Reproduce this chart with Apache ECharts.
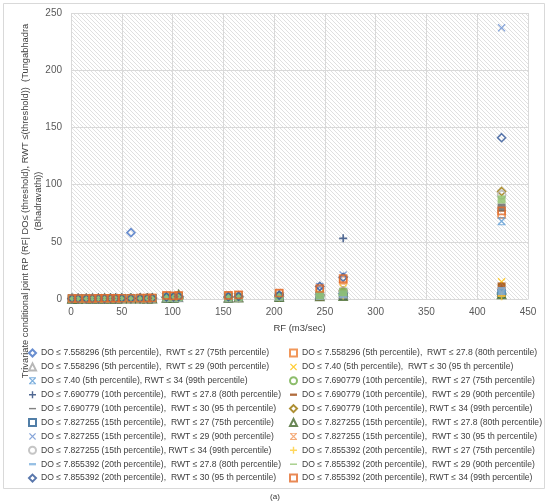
<!DOCTYPE html>
<html>
<head>
<meta charset="utf-8">
<script src="https://cdn.jsdelivr.net/npm/echarts@6/dist/echarts.min.js"></script>
<style>
  html, body { margin: 0; padding: 0; background: #fff; }
  #chart { width: 550px; height: 503px; }
</style>
</head>
<body>
<div id="chart"></div>
<script>
// RF (m3/sec) values shared by every series
const rf = [1, 7, 15, 21, 27, 33, 39, 44, 50, 59, 68, 75, 80, 94, 101, 106, 155, 165, 205, 245, 268, 424];

const seriesNames = [
  'DO ≤ 7.558296 (5th percentile),  RWT ≤ 27 (75th percentile)',
  'DO ≤ 7.558296 (5th percentile),  RWT ≤ 27.8 (80th percentile)',
  'DO ≤ 7.558296 (5th percentile),  RWT ≤ 29 (90th percentile)',
  'DO ≤ 7.40 (5th percentile),  RWT ≤ 30 (95 th percentile)',
  'DO ≤ 7.40 (5th percentile), RWT ≤ 34 (99th percentile)',
  'DO ≤ 7.690779 (10th percentile),  RWT ≤ 27 (75th percentile)',
  'DO ≤ 7.690779 (10th percentile),  RWT ≤ 27.8 (80th percentile)',
  'DO ≤ 7.690779 (10th percentile),  RWT ≤ 29 (90th percentile)',
  'DO ≤ 7.690779 (10th percentile),  RWT ≤ 30 (95 th percentile)',
  'DO ≤ 7.690779 (10th percentile), RWT ≤ 34 (99th percentile)',
  'DO ≤ 7.827255 (15th percentile),  RWT ≤ 27 (75th percentile)',
  'DO ≤ 7.827255 (15th percentile),  RWT ≤ 27.8 (80th percentile)',
  'DO ≤ 7.827255 (15th percentile),  RWT ≤ 29 (90th percentile)',
  'DO ≤ 7.827255 (15th percentile),  RWT ≤ 30 (95 th percentile)',
  'DO ≤ 7.827255 (15th percentile), RWT ≤ 34 (99th percentile)',
  'DO ≤ 7.855392 (20th percentile),  RWT ≤ 27 (75th percentile)',
  'DO ≤ 7.855392 (20th percentile),  RWT ≤ 27.8 (80th percentile)',
  'DO ≤ 7.855392 (20th percentile),  RWT ≤ 29 (90th percentile)',
  'DO ≤ 7.855392 (20th percentile),  RWT ≤ 30 (95 th percentile)',
  'DO ≤ 7.855392 (20th percentile), RWT ≤ 34 (99th percentile)'
];

// return periods, one array per series
const rp1  = [0.3, 0.3, 0.3, 0.4, 0.4, 0.4, 0.4, 0.5, 0.5, 58, 0.5, 0.6, 0.6, 1.5, 1.6, 1.8, 1.5, 1.7, 2.5, 3.5, 5, 5];
const rp2  = [0.4, 0.4, 0.4, 0.4, 0.5, 0.5, 0.5, 0.5, 0.6, 0.6, 0.7, 0.7, 0.8, 2.6, 2.4, 2.8, 2.9, 3.3, 4.8, 8.2, 16.5, 74];
const rp3  = [0.2, 0.2, 0.2, 0.3, 0.3, 0.3, 0.3, 0.3, 0.4, 0.4, 0.4, 0.4, 0.5, 1.2, 1.3, 1.4, 1.3, 1.5, 2.2, 3.1, 4.5, 8];
const rp4  = [0.3, 0.3, 0.3, 0.3, 0.4, 0.4, 0.4, 0.4, 0.5, 0.5, 0.5, 0.5, 0.6, 1.6, 1.7, 1.9, 1.8, 2.0, 2.9, 4.6, 9.5, 15];
const rp5  = [0.2, 0.2, 0.2, 0.2, 0.3, 0.3, 0.3, 0.3, 0.3, 0.4, 0.4, 0.4, 0.4, 1.1, 1.2, 1.3, 1.2, 1.4, 2.0, 3.0, 4, 68];
const rp6  = [0.2, 0.2, 0.2, 0.2, 0.2, 0.3, 0.3, 0.3, 0.3, 0.3, 0.3, 0.4, 0.4, 1.0, 1.1, 1.2, 1.1, 1.3, 1.9, 2.6, 3.5, 4];
const rp7  = [0.2, 0.2, 0.2, 0.2, 0.3, 0.3, 0.3, 0.3, 0.3, 0.3, 0.4, 0.4, 0.4, 1.1, 1.2, 1.3, 1.2, 1.4, 2.0, 2.8, 53, 3];
const rp8  = [0.2, 0.2, 0.2, 0.3, 0.3, 0.3, 0.3, 0.3, 0.4, 0.4, 0.4, 0.4, 0.5, 1.2, 1.3, 1.4, 1.3, 1.5, 2.1, 3.0, 5, 11];
const rp9  = [0.3, 0.3, 0.3, 0.3, 0.3, 0.4, 0.4, 0.4, 0.4, 0.4, 0.5, 0.5, 0.5, 1.3, 1.4, 1.5, 1.4, 1.6, 2.3, 3.2, 6, 80];
const rp10 = [0.3, 0.3, 0.3, 0.3, 0.4, 0.4, 0.4, 0.4, 0.4, 0.5, 0.5, 0.5, 0.6, 1.4, 1.5, 1.6, 1.5, 1.7, 2.4, 3.4, 7, 94];
const rp11 = [0.2, 0.2, 0.2, 0.2, 0.2, 0.2, 0.3, 0.3, 0.3, 0.3, 0.3, 0.3, 0.4, 1.0, 1.0, 1.1, 1.0, 1.2, 1.7, 2.4, 3, 5];
const rp12 = [0.1, 0.1, 0.2, 0.2, 0.2, 0.2, 0.2, 0.2, 0.3, 0.3, 0.3, 0.3, 0.3, 0.9, 1.0, 4.0, 0.9, 1.1, 1.6, 2.2, 2.5, 4];
const rp13 = [0.3, 0.3, 0.3, 0.3, 0.4, 0.4, 0.4, 0.4, 0.5, 0.5, 0.5, 0.6, 0.6, 1.7, 1.8, 2.0, 1.9, 2.2, 3.2, 11, 21, 237];
const rp14 = [0.2, 0.2, 0.2, 0.2, 0.2, 0.3, 0.3, 0.3, 0.3, 0.3, 0.3, 0.4, 0.4, 1.0, 1.1, 1.2, 1.1, 1.2, 1.8, 2.5, 4, 6];
const rp15 = [0.3, 0.3, 0.3, 0.3, 0.3, 0.4, 0.4, 0.4, 0.4, 0.4, 0.5, 0.5, 0.5, 1.3, 1.4, 1.5, 1.4, 1.6, 2.3, 3.3, 7, 91];
const rp16 = [0.1, 0.1, 0.1, 0.2, 0.2, 0.2, 0.2, 0.2, 0.2, 0.2, 0.3, 0.3, 0.3, 0.8, 0.9, 1.0, 0.9, 1.0, 1.5, 3.0, 3, 2.5];
const rp17 = [0.2, 0.2, 0.2, 0.2, 0.3, 0.3, 0.3, 0.3, 0.3, 0.3, 0.4, 0.4, 0.4, 1.1, 1.2, 1.2, 1.2, 1.3, 1.9, 2.7, 4, 7];
const rp18 = [0.2, 0.2, 0.3, 0.3, 0.3, 0.3, 0.3, 0.4, 0.4, 0.4, 0.4, 0.5, 0.5, 1.3, 1.4, 1.5, 1.4, 1.5, 2.2, 3.1, 6, 87];
const rp19 = [0.3, 0.3, 0.3, 0.4, 0.4, 0.4, 0.5, 0.5, 0.5, 0.5, 0.6, 0.6, 0.7, 1.8, 1.9, 2.1, 2.0, 2.3, 3.4, 11, 19, 141];
const rp20 = [0.5, 0.5, 0.5, 0.5, 0.6, 0.6, 0.6, 0.6, 0.7, 0.7, 0.8, 0.8, 0.9, 3.2, 2.7, 3.0, 3.2, 3.6, 5.2, 9.2, 17.8, 77];

const rpAll = [rp1, rp2, rp3, rp4, rp5, rp6, rp7, rp8, rp9, rp10,
               rp11, rp12, rp13, rp14, rp15, rp16, rp17, rp18, rp19, rp20];

const xTicks = [0, 50, 100, 150, 200, 250, 300, 350, 400, 450];
const yTicks = [0, 50, 100, 150, 200, 250];

// marker shapes
const X_PATH = 'path://M0,1.2 L1.2,0 L5,3.8 L8.8,0 L10,1.2 L6.2,5 L10,8.8 L8.8,10 L5,6.2 L1.2,10 L0,8.8 L3.8,5 Z';
const STAR_PATH = 'path://M0,1.2 L1.2,0 L5,3.8 L8.8,0 L10,1.2 L6.2,5 L10,8.8 L8.8,10 L5,6.2 L1.2,10 L0,8.8 L3.8,5 Z M0,0 H10 V1.2 H0 Z M0,8.8 H10 V10 H0 Z';
const PLUS_PATH = 'path://M4,0 H6 V4 H10 V6 H6 V10 H4 V6 H0 V4 H4 Z';
const SDASH_PATH = 'path://M2,4 H8 V6 H2 Z';
const LDASH_PATH = 'path://M0,4 H10 V6 H0 Z';

// [symbol, color, hollow]
const markers = [
  ['diamond', '#4472C4', true],
  ['rect', '#ED7D31', true],
  ['triangle', '#A5A5A5', true],
  [X_PATH, '#FFC000', false],
  [STAR_PATH, '#5B9BD5', false],
  ['circle', '#70AD47', true],
  [PLUS_PATH, '#264478', false],
  [SDASH_PATH, '#9E480E', false],
  [LDASH_PATH, '#636363', false],
  ['diamond', '#997300', true],
  ['rect', '#255E91', true],
  ['triangle', '#43682B', true],
  [X_PATH, '#698ED0', false],
  [STAR_PATH, '#F1975A', false],
  ['circle', '#B7B7B7', true],
  [PLUS_PATH, '#FFCD33', false],
  [SDASH_PATH, '#7CAFDD', false],
  [LDASH_PATH, '#8CC168', false],
  ['diamond', '#2F5597', true],
  ['rect', '#E46C2A', true]
];

// hatched plot background
const hatch = document.createElement('canvas');
hatch.width = 4; hatch.height = 4;
(() => {
  const ctx = hatch.getContext('2d');
  ctx.fillStyle = '#ffffff';
  ctx.fillRect(0, 0, 4, 4);
  ctx.strokeStyle = '#e0e0e0';
  ctx.lineWidth = 1;
  ctx.beginPath();
  ctx.moveTo(-1, -1); ctx.lineTo(5, 5);
  ctx.moveTo(-1, 3); ctx.lineTo(1, 5);
  ctx.moveTo(3, -1); ctx.lineTo(5, 1);
  ctx.stroke();
})();

const FONT = '"Liberation Sans", Arial, sans-serif';

const series = seriesNames.map((name, i) => {
  const [sym, col, hollow] = markers[i];
  return {
    name: name,
    type: 'scatter',
    symbol: sym,
    symbolSize: sym === 'rect' ? 7 : 8,
    data: rf.map((x, k) => [x, rpAll[i][k]]),
    itemStyle: hollow
      ? { color: 'rgba(255,255,255,0)', borderColor: col, borderWidth: 1.6 }
      : { color: col }
  };
});

const leftNames = seriesNames.filter((n, i) => i % 2 === 0);
const rightNames = seriesNames.filter((n, i) => i % 2 === 1);

const legendBase = {
  orient: 'vertical',
  top: 347,
  padding: 0,
  itemWidth: 7,
  itemHeight: 7,
  itemGap: 1.9,
  textStyle: { fontFamily: FONT, fontSize: 8.6, color: '#404040', lineHeight: 12 }
};

const chart = echarts.init(document.getElementById('chart'));
chart.setOption({
  animation: false,
  backgroundColor: '#fff',
  grid: {
    left: 71, right: 22, top: 13, bottom: 204,
    show: true,
    borderWidth: 0,
    backgroundColor: { image: hatch, repeat: 'repeat' }
  },
  xAxis: {
    type: 'value',
    min: 0, max: xTicks[xTicks.length - 1], interval: 50,
    name: 'RF (m3/sec)',
    nameLocation: 'middle',
    nameGap: 24,
    nameTextStyle: { fontFamily: FONT, fontSize: 9.5, color: '#404040' },
    axisLine: { show: true, lineStyle: { color: '#d9d9d9' } },
    axisTick: { show: false },
    axisLabel: { fontFamily: FONT, fontSize: 10, color: '#595959', margin: 8 },
    splitLine: { show: true, lineStyle: { color: '#d9d9d9' } }
  },
  yAxis: {
    type: 'value',
    min: 0, max: yTicks[yTicks.length - 1], interval: 50,
    axisLine: { show: false },
    axisTick: { show: false },
    axisLabel: { fontFamily: FONT, fontSize: 10, color: '#595959', margin: 9 },
    splitLine: { show: true, lineStyle: { color: '#d9d9d9' } }
  },
  legend: [
    Object.assign({}, legendBase, { left: 28, data: leftNames }),
    Object.assign({}, legendBase, { left: 289, data: rightNames })
  ],
  graphic: [
    {
      type: 'rect', silent: true, z: -1,
      shape: { x: 3.5, y: 3.5, width: 541, height: 485 },
      style: { fill: 'none', stroke: '#d9d9d9', lineWidth: 1 }
    },
    {
      type: 'text', silent: true,
      x: 32, y: 201, rotation: Math.PI / 2,
      style: {
        text: 'Trivariate conditional joint RP (RF| DO≤ (threshold), RWT ≤(threshold))  (Tungabhadra\n(Bhadravathi))',
        font: '9.3px ' + FONT,
        fill: '#404040',
        align: 'center',
        verticalAlign: 'middle',
        lineHeight: 13
      }
    },
    {
      type: 'text', silent: true,
      x: 275, y: 497,
      style: {
        text: '(a)',
        font: '8px ' + FONT,
        fill: '#333',
        align: 'center',
        verticalAlign: 'middle'
      }
    }
  ],
  series: series
});
</script>
</body>
</html>
